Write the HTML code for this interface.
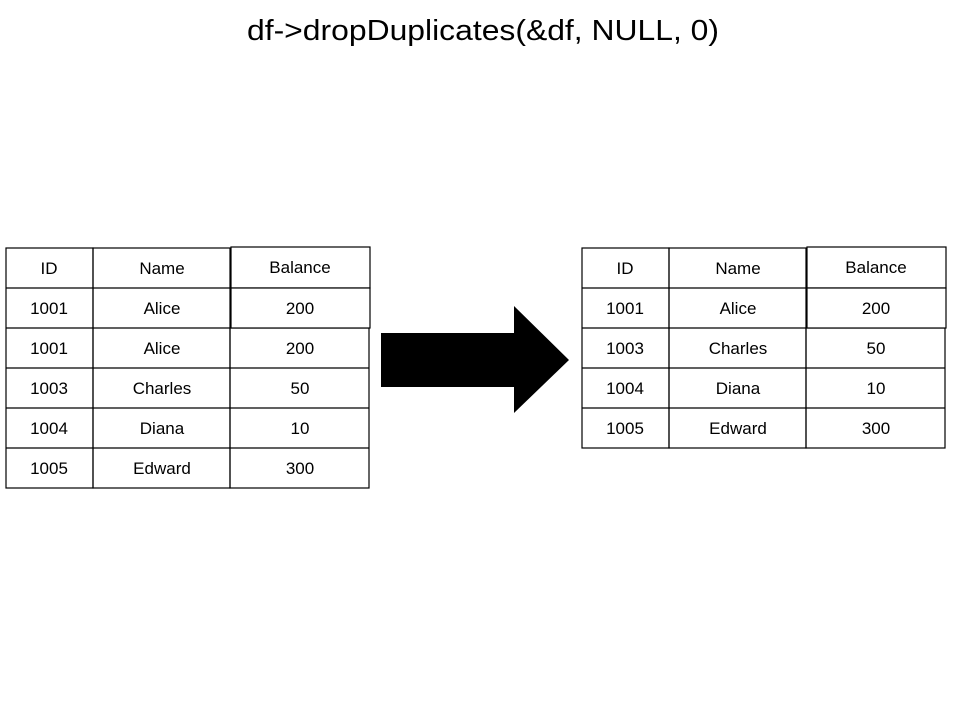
<!DOCTYPE html>
<html><head><meta charset="utf-8"><style>
html,body{margin:0;padding:0;background:#fff;}
svg{display:block;}
text{font-family:"Liberation Sans",Arial,sans-serif;fill:#000;}
</style></head><body>
<svg width="960" height="720" viewBox="0 0 960 720" xmlns="http://www.w3.org/2000/svg">
<text x="483" y="40" font-size="29" text-anchor="middle" textLength="472" lengthAdjust="spacingAndGlyphs">df-&gt;dropDuplicates(&amp;df, NULL, 0)</text>
<g fill="none" stroke="#000" stroke-width="1.2">
<!-- left table -->
<rect x="6" y="248" width="87" height="240"/>
<rect x="93" y="248" width="137" height="240"/>
<rect x="230" y="328" width="139" height="160"/>
<line x1="6" y1="288" x2="231" y2="288"/><line x1="6" y1="328" x2="230" y2="328"/>
<line x1="6" y1="368" x2="369" y2="368"/><line x1="6" y1="408" x2="369" y2="408"/><line x1="6" y1="448" x2="369" y2="448"/>
<rect x="231" y="247" width="139" height="41" fill="#fff"/>
<rect x="231" y="288" width="139" height="40" fill="#fff"/>
<!-- right table -->
<rect x="582" y="248" width="87" height="200"/>
<rect x="669" y="248" width="137" height="200"/>
<rect x="806" y="328" width="139" height="120"/>
<line x1="582" y1="288" x2="807" y2="288"/><line x1="582" y1="328" x2="806" y2="328"/>
<line x1="582" y1="368" x2="945" y2="368"/><line x1="582" y1="408" x2="945" y2="408"/>
<rect x="807" y="247" width="139" height="41" fill="#fff"/>
<rect x="807" y="288" width="139" height="40" fill="#fff"/>
</g>
<polygon points="381,333 514,333 514,306 569,360 514,413 514,387 381,387" fill="#000"/>
<g font-size="17" text-anchor="middle">
<text x="49" y="274">ID</text><text x="162" y="274">Name</text><text x="300" y="273">Balance</text>
<text x="49" y="314">1001</text><text x="162" y="314">Alice</text><text x="300" y="314">200</text>
<text x="49" y="354">1001</text><text x="162" y="354">Alice</text><text x="300" y="354">200</text>
<text x="49" y="394">1003</text><text x="162" y="394">Charles</text><text x="300" y="394">50</text>
<text x="49" y="434">1004</text><text x="162" y="434">Diana</text><text x="300" y="434">10</text>
<text x="49" y="474">1005</text><text x="162" y="474">Edward</text><text x="300" y="474">300</text>

<text x="625" y="274">ID</text><text x="738" y="274">Name</text><text x="876" y="273">Balance</text>
<text x="625" y="314">1001</text><text x="738" y="314">Alice</text><text x="876" y="314">200</text>
<text x="625" y="354">1003</text><text x="738" y="354">Charles</text><text x="876" y="354">50</text>
<text x="625" y="394">1004</text><text x="738" y="394">Diana</text><text x="876" y="394">10</text>
<text x="625" y="434">1005</text><text x="738" y="434">Edward</text><text x="876" y="434">300</text>
</g>
</svg>
</body></html>
